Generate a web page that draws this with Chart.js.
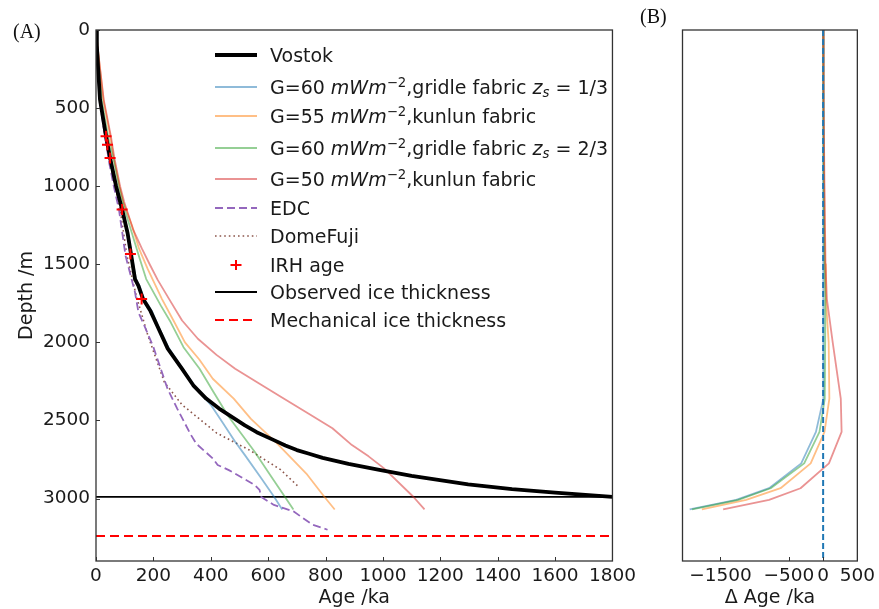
<!DOCTYPE html>
<html><head><meta charset="utf-8">
<script src="https://cdn.jsdelivr.net/npm/chart.js@4"></script>
<style>
html,body{margin:0;padding:0;background:#fff;}
#wrap{position:relative;width:879px;height:609px;overflow:hidden;font-family:'DejaVu Sans',sans-serif;color:#1a1a1a;background:#fff;}
canvas{position:absolute;top:0;}
#cA{left:0;}
#cB{left:640px;}
.lab{position:absolute;font-family:'Liberation Serif','Times New Roman',serif;font-size:20px;line-height:24px;color:#111;}
.row{position:absolute;left:215px;height:24px;line-height:24px;font-size:19px;white-space:nowrap;}
.row svg{position:absolute;left:0;top:7px;}
.row span{position:absolute;left:55px;top:0;}
sup{font-size:0.7em;vertical-align:0.55em;line-height:0;}
sub{font-size:0.7em;vertical-align:-0.25em;line-height:0;}
</style>
</head><body>
<div id="wrap">
<canvas id="cA" width="640" height="609"></canvas>
<canvas id="cB" width="239" height="609"></canvas>
<div class="lab" style="left:13px;top:19px;">(A)</div>
<div class="lab" style="left:640px;top:4px;">(B)</div>
<div id="legend"></div>
</div>
<script>
// ---------- tick labels ----------
const AGE_TICKS = [0,200,400,600,800,1000,1200,1400,1600,1800];
const DEPTH_TICKS = [0,500,1000,1500,2000,2500,3000];
const DAGE_TICKS = [-1500,-500,0,500];

// ---------- panel A series (age ka, depth m) ----------
const VOSTOK_AGE   = [0,3,7,14,35,49,70,91,110,123,136,148,164,190,215,250,300,339,384,429,519,560,620,660,700,740,790,880,992,1100,1297,1450,1600,1800];
const VOSTOK_DEPTH = [0,100,235,447,681,819,1000,1149,1300,1446,1595,1638,1723,1800,1900,2040,2170,2275,2360,2424,2531,2575,2626,2660,2690,2712,2740,2778,2818,2855,2909,2940,2962,2990];

const G60_13_AGE   = [0,4,15,36,51,73,93,112,125,139,152,168,195,218,255,303,350,400,440,485,519,576,620,649];
const G60_13_DEPTH = [0,100,447,681,819,1000,1149,1300,1446,1595,1638,1723,1800,1900,2040,2170,2296,2400,2510,2636,2722,2870,2987,3070];

const G55_K_AGE    = [0,8,26,50,62,82,95,125,150,180,230,270,310,360,407,480,540,630,733,795,832];
const G55_K_DEPTH  = [0,150,447,681,819,1000,1100,1250,1400,1530,1723,1860,2000,2110,2233,2360,2490,2645,2840,2987,3070];

const G60_23_AGE   = [0,5,20,42,60,80,100,125,150,175,226,260,305,361,410,460,553,600,654,688];
const G60_23_DEPTH = [0,100,447,681,819,1000,1149,1300,1450,1595,1765,1870,2031,2169,2320,2470,2700,2830,2977,3070];

const G50_K_AGE    = [0,8,27,52,64,84,98,130,160,187,215,255,300,355,420,485,570,654,740,824,892,950,1004,1105,1145];
const G50_K_DEPTH  = [0,150,447,681,819,1000,1100,1280,1400,1500,1600,1723,1860,1977,2080,2169,2265,2360,2455,2550,2658,2730,2807,2987,3070];

const EDC_AGE      = [0,4,12,33,46,62,80,103,136,148,170,200,249,283,330,350,407,424,463,480,553,570,576,620,654,688,755,807];
const EDC_DEPTH    = [0,100,447,700,850,1000,1149,1446,1680,1808,1900,2030,2296,2424,2590,2650,2743,2785,2818,2835,2913,2945,2990,3041,3062,3082,3168,3200];

const DF_AGE       = [0,4,13,33,49,66,84,108,140,181,238,300,373,420,535,643,705];
const DF_DEPTH     = [0,100,447,700,850,1000,1149,1446,1700,1957,2254,2400,2509,2580,2690,2815,2923];

const IRH_AGE      = [35,40,49,91,120,159];
const IRH_DEPTH    = [681,734,819,1149,1435,1723];

const OBS_THICKNESS  = 2990;
const MECH_THICKNESS = 3240;

// ---------- panel B series (delta age ka vs depth m) ----------
const DA_DEPTH     = [0,500,1000,1500,1723,2000,2360,2573,2775,2934,3009,3070];
const DA_G60_13    = [0,0,2,5,8,10,0,-105,-320,-790,-1270,-1950];
const DA_G55_K     = [0,5,15,28,40,81,91,20,-182,-622,-1125,-1772];
const DA_G60_23    = [0,3,10,22,33,30,24,-53,-277,-766,-1240,-1915];
const DA_G50_K     = [0,8,20,35,55,140,258,270,85,-330,-790,-1461];

const C_BLUE='rgba(31,119,180,0.5)', C_ORANGE='rgba(255,127,14,0.5)', C_GREEN='rgba(44,160,44,0.5)', C_RED='rgba(214,39,40,0.5)';
const pts = (xs, ys) => xs.map((x,i)=>({x:x, y:ys[i]}));
const fmt = v => String(v).replace('-', '\u2212');

Chart.defaults.font.family = "'DejaVu Sans', sans-serif";
Chart.defaults.color = '#1a1a1a';

const frameTicks = {
  id: 'frameTicks',
  afterDraw(chart, args, opts) {
    const {ctx, chartArea: a} = chart;
    ctx.save();
    ctx.strokeStyle = '#333';
    ctx.lineWidth = 1;
    const xs = chart.scales.x, ys = chart.scales.y;
    xs.ticks.forEach(t => {
      const p = Math.round(xs.getPixelForValue(t.value)) + 0.5;
      ctx.beginPath(); ctx.moveTo(p, a.bottom); ctx.lineTo(p, a.bottom - 4); ctx.stroke();
    });
    if (opts.yTicks) {
      ys.ticks.forEach(t => {
        const p = Math.round(ys.getPixelForValue(t.value)) + 0.5;
        ctx.beginPath(); ctx.moveTo(a.left, p); ctx.lineTo(a.left + 4, p); ctx.stroke();
      });
    }
    ctx.lineWidth = 1.3;
    ctx.strokeRect(a.left, a.top, a.right - a.left, a.bottom - a.top);
    ctx.restore();
  }
};

const line = (label, data, color, width, dash, order) => ({
  label, data, showLine: true, borderColor: color, backgroundColor: color,
  borderWidth: width, borderDash: dash || [], pointRadius: 0, tension: 0, fill: false, order: order,
  borderJoinStyle: 'round'
});

const tickFont = {size: 18.5, family: "'DejaVu Sans', sans-serif"};
const titleFont = {size: 19, family: "'DejaVu Sans', sans-serif"};

new Chart(document.getElementById('cA'), {
  type: 'scatter',
  data: { datasets: [
    line('Vostok', pts(VOSTOK_AGE, VOSTOK_DEPTH), '#000', 3.8, null, 1),
    line('G=60 gridle 1/3', pts(G60_13_AGE, G60_13_DEPTH), C_BLUE, 1.8, null, 5),
    line('G=55 kunlun', pts(G55_K_AGE, G55_K_DEPTH), C_ORANGE, 1.8, null, 4),
    line('G=60 gridle 2/3', pts(G60_23_AGE, G60_23_DEPTH), C_GREEN, 1.8, null, 3),
    line('G=50 kunlun', pts(G50_K_AGE, G50_K_DEPTH), C_RED, 1.8, null, 2),
    line('EDC', pts(EDC_AGE, EDC_DEPTH), '#9467bd', 1.8, [8,4], 6),
    line('DomeFuji', pts(DF_AGE, DF_DEPTH), '#8c564b', 1.6, [1.6,3], 7),
    { label: 'IRH age', data: pts(IRH_AGE, IRH_DEPTH), showLine: false, pointStyle: 'cross',
      pointRadius: 5.5, borderColor: '#ff0000', backgroundColor: '#ff0000', borderWidth: 2, order: 0 },
    line('Observed ice thickness', pts([0,1800],[OBS_THICKNESS,OBS_THICKNESS]), '#000', 1.8, null, 8),
    line('Mechanical ice thickness', pts([0,1800],[MECH_THICKNESS,MECH_THICKNESS]), '#ff0000', 2, [9,5], 9)
  ]},
  options: {
    responsive: false, animation: false, devicePixelRatio: 1, events: [],
    layout: { padding: {left: 0, top: 30, right: 11, bottom: 0} },
    plugins: { legend: {display: false}, tooltip: {enabled: false}, frameTicks: {yTicks: true} },
    scales: {
      x: { type: 'linear', min: 0, max: 1800,
        afterBuildTicks: s => { s.ticks = AGE_TICKS.map(v => ({value: v})); },
        afterFit: s => { s.height = 48; },
        grid: {display: false, drawTicks: false}, border: {display: false},
        ticks: {font: tickFont, padding: 4, maxRotation: 0, autoSkip: false, callback: v => fmt(v)},
        title: {display: true, text: 'Age /ka', font: titleFont, padding: {top: 0, bottom: 0}} },
      y: { type: 'linear', min: 0, max: 3400, reverse: true,
        afterBuildTicks: s => { s.ticks = DEPTH_TICKS.map(v => ({value: v})); },
        afterFit: s => { s.width = 96; },
        grid: {display: false, drawTicks: false}, border: {display: false},
        ticks: {font: tickFont, padding: 6, autoSkip: false, callback: v => fmt(v)},
        title: {display: true, text: 'Depth /m', font: titleFont, padding: {top: 15.5, bottom: 0}} }
    }
  },
  plugins: [frameTicks]
});

new Chart(document.getElementById('cB'), {
  type: 'scatter',
  data: { datasets: [
    line('zero', pts([0,0],[0,3400]), '#1f77b4', 2, [6,3], 0),
    line('G=60 gridle 1/3', pts(DA_G60_13, DA_DEPTH), C_BLUE, 1.8, null, 4),
    line('G=55 kunlun', pts(DA_G55_K, DA_DEPTH), C_ORANGE, 1.8, null, 3),
    line('G=60 gridle 2/3', pts(DA_G60_23, DA_DEPTH), C_GREEN, 1.8, null, 2),
    line('G=50 kunlun', pts(DA_G50_K, DA_DEPTH), C_RED, 1.8, null, 1)
  ]},
  options: {
    responsive: false, animation: false, devicePixelRatio: 1, events: [],
    layout: { padding: {left: 42.5, top: 30, right: 19.3, bottom: 0} },
    plugins: { legend: {display: false}, tooltip: {enabled: false}, frameTicks: {yTicks: false} },
    scales: {
      x: { type: 'linear', min: -2055, max: 500,
        afterBuildTicks: s => { s.ticks = DAGE_TICKS.map(v => ({value: v})); },
        afterFit: s => { s.height = 48; },
        grid: {display: false, drawTicks: false}, border: {display: false},
        ticks: {font: tickFont, padding: 4, maxRotation: 0, autoSkip: false, callback: v => fmt(v)},
        title: {display: true, text: '\u0394 Age /ka', font: titleFont, padding: {top: 0, bottom: 0}} },
      y: { type: 'linear', min: 0, max: 3400, reverse: true, display: false }
    }
  },
  plugins: [frameTicks]
});

// ---------- legend (HTML text) ----------
const LEGEND_Y = [55, 86.7, 116, 148.3, 179, 207.7, 236, 265, 292.3, 320];
const G = (n, rest) => 'G=' + n + ' <i>mWm</i><sup>\u22122</sup>,' + rest;
const LEGEND = [
  {t: 'Vostok', s: '<line x1="0" y1="5" x2="42" y2="5" stroke="#000" stroke-width="3.8"/>'},
  {t: G(60, 'gridle fabric <i>z</i><sub><i>s</i></sub> = 1/3'), s: '<line x1="0" y1="5" x2="42" y2="5" stroke="'+C_BLUE+'" stroke-width="1.8"/>'},
  {t: G(55, 'kunlun fabric'), s: '<line x1="0" y1="5" x2="42" y2="5" stroke="'+C_ORANGE+'" stroke-width="1.8"/>'},
  {t: G(60, 'gridle fabric <i>z</i><sub><i>s</i></sub> = 2/3'), s: '<line x1="0" y1="5" x2="42" y2="5" stroke="'+C_GREEN+'" stroke-width="1.8"/>'},
  {t: G(50, 'kunlun fabric'), s: '<line x1="0" y1="5" x2="42" y2="5" stroke="'+C_RED+'" stroke-width="1.8"/>'},
  {t: 'EDC', s: '<line x1="0" y1="5" x2="42" y2="5" stroke="#9467bd" stroke-width="1.8" stroke-dasharray="8,4"/>'},
  {t: 'DomeFuji', s: '<line x1="0" y1="5" x2="42" y2="5" stroke="#8c564b" stroke-width="1.6" stroke-dasharray="1.6,3"/>'},
  {t: 'IRH age', s: '<line x1="15.5" y1="5" x2="26.5" y2="5" stroke="#f00" stroke-width="2"/><line x1="21" y1="0" x2="21" y2="10" stroke="#f00" stroke-width="2"/>'},
  {t: 'Observed ice thickness', s: '<line x1="0" y1="5" x2="42" y2="5" stroke="#000" stroke-width="1.8"/>'},
  {t: 'Mechanical ice thickness', s: '<line x1="0" y1="5" x2="42" y2="5" stroke="#f00" stroke-width="2" stroke-dasharray="9,5"/>'}
];
const lg = document.getElementById('legend');
LEGEND.forEach((e, i) => {
  const d = document.createElement('div');
  d.className = 'row';
  d.style.top = (LEGEND_Y[i] - 12) + 'px';
  d.innerHTML = '<svg width="42" height="10">' + e.s + '</svg><span>' + e.t + '</span>';
  lg.appendChild(d);
});
</script>
</body></html>
